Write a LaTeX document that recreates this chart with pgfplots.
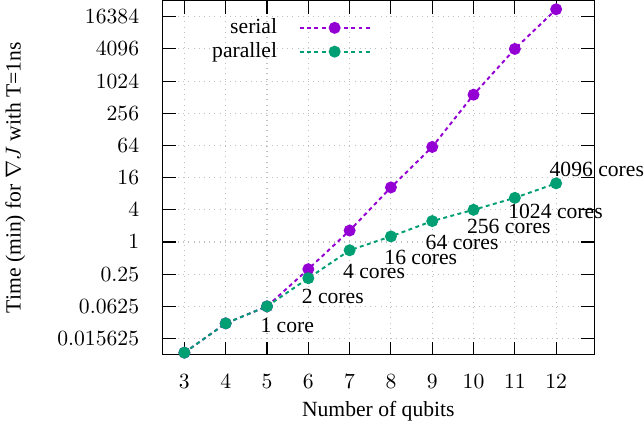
\documentclass[border=0pt]{standalone}
\usepackage{fontspec}
\setmainfont{Liberation Serif}
\usepackage{pgfplots}
\pgfplotsset{compat=1.18}
\definecolor{serialc}{HTML}{9400D3}
\definecolor{parc}{HTML}{009E73}

\begin{document}
\begin{tikzpicture}
\begin{axis}[
 scale only axis,
 width=199.5pt, height=163.6pt,
 xmin=2.47, xmax=12.92,
 ymode=log, log basis y=2,
 ymin=0.0078125, ymax=32768,
 xtick={3,4,5,6,7,8,9,10,11,12},
 ytick={0.015625,0.0625,0.25,1,4,16,64,256,1024,4096,16384},
 yticklabels={$0.015625$,$0.0625$,$0.25$,$1$,$4$,$16$,$64$,$256$,$1024$,$4096$,$16384$},
 minor ytick={},
 tick align=inside,
 major tick length=6pt,
 tick style={black, line width=0.5pt},
 axis line style={line width=0.6pt},
 grid=major,
 grid style={gray!50, dotted, line width=0.5pt},
 xticklabel style={yshift=-5.5pt},
 yticklabel style={xshift=-7.3pt},
 xlabel={Number of qubits},
 ylabel={Time (min) for $\nabla J$ with T=1ns},
 xlabel style={at={(axis description cs:0.5,0)}, anchor=center, yshift=-26.3pt},
 ylabel style={at={(axis description cs:-0.341,0.5)}, anchor=center, inner sep=2.5pt},
 clip=false,
 legend plot pos=right,
 legend cell align=right,
 legend style={draw=none, fill=none, at={(0.483,0.958)}, anchor=north east,
   inner sep=0pt, row sep=0pt, column sep=9pt,
   nodes={inner sep=1pt, text height=7pt, text depth=2pt}},
 legend image code/.code={%
   \draw[#1, mark repeat=2, mark phase=2] plot coordinates {(0pt,0pt) (16.15pt,0pt) (32.3pt,0pt)};},
]

\addplot[serialc, line width=0.9pt, dash pattern=on 1.8pt off 1.6pt,
  mark=*, mark size=2.3pt, mark options={solid}] coordinates {
 (3,0.0085) (4,0.03) (5,0.0625) (6,0.31) (7,1.64) (8,10.5)
 (9,60) (10,570) (11,4090) (12,22600)
};
\addlegendentry{serial}

\addplot[parc, line width=0.9pt, dash pattern=on 1.8pt off 1.6pt,
  mark=*, mark size=2.3pt, mark options={solid}] coordinates {
 (3,0.0085) (4,0.03) (5,0.0625) (6,0.21) (7,0.70) (8,1.27)
 (9,2.46) (10,4.0) (11,6.7) (12,12.5)
};
\addlegendentry{parallel}

% core count labels
\tikzset{corelbl/.style={anchor=west, inner sep=0pt, xshift=-3.2pt}}
\node[corelbl, yshift=-8.8pt] at (axis cs:5,0.0625) {1 core};
\node[corelbl, yshift=-8.3pt] at (axis cs:6,0.21) {2 cores};
\node[corelbl, yshift=-9.7pt] at (axis cs:7,0.70) {4 cores};
\node[corelbl, yshift=-9.7pt] at (axis cs:8,1.27) {16 cores};
\node[corelbl, yshift=-9.7pt] at (axis cs:9,2.46) {64 cores};
\node[corelbl, yshift=-7.8pt] at (axis cs:10,4.0) {256 cores};
\node[corelbl, yshift=-6.5pt] at (axis cs:11,6.7) {1024 cores};
\node[corelbl, yshift=6.5pt] at (axis cs:12,12.5) {4096 cores};

\coordinate (bl) at (rel axis cs:0,0);
\end{axis}
\path (bl) ++(0,-36.4pt);
\end{tikzpicture}
\end{document}
